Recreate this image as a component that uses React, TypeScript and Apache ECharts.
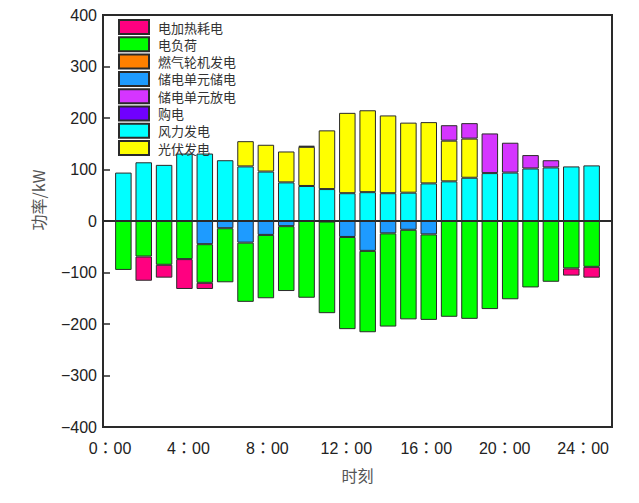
import React, { useEffect, useRef } from "react";
import * as echarts from "echarts";

const AXIS_HOURS = [0, 1, 2, 3, 4, 5, 6, 7, 8, 9, 10, 11, 12, 13, 14, 15, 16, 17, 18, 19, 20, 21, 22, 23, 24, 25];
const HOURS = [1, 2, 3, 4, 5, 6, 7, 8, 9, 10, 11, 12, 13, 14, 15, 16, 17, 18, 19, 20, 21, 22, 23, 24];
const X_TICKS = [0, 4, 8, 12, 16, 20, 24];
const WIND = [94, 114, 109, 131, 131, 118, 106, 96, 75, 68, 62, 54, 56, 54, 55, 73, 77, 84, 93, 94, 102, 104, 106, 108];
const PV = [0, 0, 0, 0, 0, 0, 49, 52, 60, 76, 114, 156, 159, 151, 136, 119, 79, 76, 0, 0, 0, 0, 0, 0];
const DISCHARGE = [0, 0, 0, 0, 0, 0, 0, 0, 0, 0, 0, 0, 0, 0, 0, 0, 30, 30, 77, 58, 26, 14, 0, 0];
const PURCHASE = [0, 0, 0, 0, 0, 0, 0, 0, 0, 2, 0, 0, 0, 0, 0, 0, 0, 0, 0, 0, 0, 0, 0, 0];
const GAS = [0, 0, 0, 0, 0, 0, 0, 0, 0, 0, 0, 0, 0, 0, 0, 0, 0, 0, 0, 0, 0, 0, 0, 0];
const CHARGE = [0, 0, 0, 0, -45, -14, -42, -27, -10, 0, -1, -31, -58, -24, -17, -26, 0, 0, 0, 0, 0, 0, 0, 0];
const LOAD = [-95, -69, -85, -74, -75, -105, -115, -123, -126, -149, -178, -179, -158, -181, -174, -166, -186, -190, -171, -152, -129, -118, -92, -89];
const HEATING = [0, -47, -25, -58, -12, 0, 0, 0, 0, 0, 0, 0, 0, 0, 0, 0, 0, 0, 0, 0, 0, 0, -14, -21];

const LEGEND_ORDER = ["电加热耗电", "电负荷", "燃气轮机发电", "储电单元储电", "储电单元放电", "购电", "风力发电", "光伏发电"];

const SERIES_DEFS: { name: string; values: number[]; color: string }[] = [
  { name: "风力发电", values: WIND, color: "#00FFFF" },
  { name: "光伏发电", values: PV, color: "#FFFF00" },
  { name: "储电单元放电", values: DISCHARGE, color: "#D535FF" },
  { name: "购电", values: PURCHASE, color: "#7000FF" },
  { name: "燃气轮机发电", values: GAS, color: "#FF8000" },
  { name: "储电单元储电", values: CHARGE, color: "#1E9BFF" },
  { name: "电负荷", values: LOAD, color: "#00FF00" },
  { name: "电加热耗电", values: HEATING, color: "#FF0080" },
];

// horizontal nudges (px) of the tick labels, as in the original figure
const LABEL_NUDGE = [7, 4, 1.5, -1, -2.5, -5.5, -8.5];

const NUM_FONT = "'Liberation Sans', Arial, 'Noto Sans CJK JP', sans-serif";
const CJK_FONT = "'Noto Sans CJK SC', sans-serif";

export default function App() {
  const ref = useRef<HTMLDivElement>(null);
  useEffect(() => {
    if (!ref.current) return;
    const chart = echarts.init(ref.current, undefined, { renderer: "svg" });
    const series = SERIES_DEFS.map((d) => ({
      name: d.name,
      type: "bar" as const,
      stack: "total",
      barWidth: 16.5,
      itemStyle: { color: d.color, borderColor: "#2a2a2a", borderWidth: 1 },
      emphasis: { disabled: true },
      data: AXIS_HOURS.map((h) => {
        const i = HOURS.indexOf(h);
        if (i < 0) return "-";
        const v = d.values[i];
        return v === 0 ? "-" : v;
      }),
    }));
    const isTick = (idx: number) => X_TICKS.includes(AXIS_HOURS[idx]);
    const rich: Record<string, any> = {};
    LABEL_NUDGE.forEach((n, k) => {
      rich["t" + k] = {
        fontSize: 16,
        color: "#222",
        fontFamily: NUM_FONT,
        padding: n >= 0 ? [0, 0, 0, 2 * n] : [0, -2 * n, 0, 0],
      };
    });
    chart.setOption({
      animation: false,
      grid: {
        left: 103,
        right: 27,
        top: 15,
        bottom: 76,
        show: true,
        borderColor: "#2a2a2a",
        borderWidth: 2,
        backgroundColor: "transparent",
      },
      legend: {
        data: LEGEND_ORDER,
        orient: "vertical",
        left: 118,
        top: 19,
        padding: 0,
        itemWidth: 30,
        itemHeight: 14,
        itemGap: 1.3,
        icon: "rect",
        selectedMode: false,
        textStyle: { fontSize: 13, lineHeight: 14, color: "#333", fontFamily: CJK_FONT, padding: [0, 0, 0, 4] },
      },
      xAxis: {
        type: "category",
        data: AXIS_HOURS.map(String),
        boundaryGap: false,
        name: "时刻",
        nameLocation: "middle",
        nameGap: 40,
        nameTextStyle: { fontSize: 16, color: "#555", fontFamily: CJK_FONT },
        splitLine: { show: false },
        axisLine: { show: true, lineStyle: { color: "#2a2a2a", width: 2 } },
        axisTick: {
          show: true,
          inside: true,
          length: 6,
          interval: (idx: number) => isTick(idx),
          lineStyle: { color: "#2a2a2a", width: 1.5 },
        },
        axisLabel: {
          fontSize: 16,
          color: "#222",
          fontFamily: NUM_FONT,
          margin: 13,
          interval: (idx: number) => isTick(idx),
          formatter: (v: string) => {
            const k = X_TICKS.indexOf(Number(v));
            return `{t${k < 0 ? 0 : k}|${v}：00}`;
          },
          rich,
        },
      },
      yAxis: {
        type: "value",
        min: -400,
        max: 400,
        interval: 100,
        name: "功率/kW",
        nameLocation: "middle",
        nameGap: 57,
        nameTextStyle: { fontSize: 16, color: "#555", fontFamily: CJK_FONT, padding: [0, 0, 0, 42] },
        splitLine: { show: false },
        axisLine: { show: true, lineStyle: { color: "#2a2a2a", width: 2 } },
        axisTick: { show: true, inside: true, length: 7, lineStyle: { color: "#2a2a2a", width: 1.5 } },
        axisLabel: {
          fontSize: 16,
          color: "#222",
          fontFamily: NUM_FONT,
          margin: 6,
          formatter: (v: number) => String(v).replace("-", "\u2212"),
        },
      },
      series,
    });
    return () => chart.dispose();
  }, []);
  return (
    <div
      ref={ref}
      style={{ position: "fixed", left: 0, top: 0, width: 639, height: 503, background: "#fff" }}
    />
  );
}
